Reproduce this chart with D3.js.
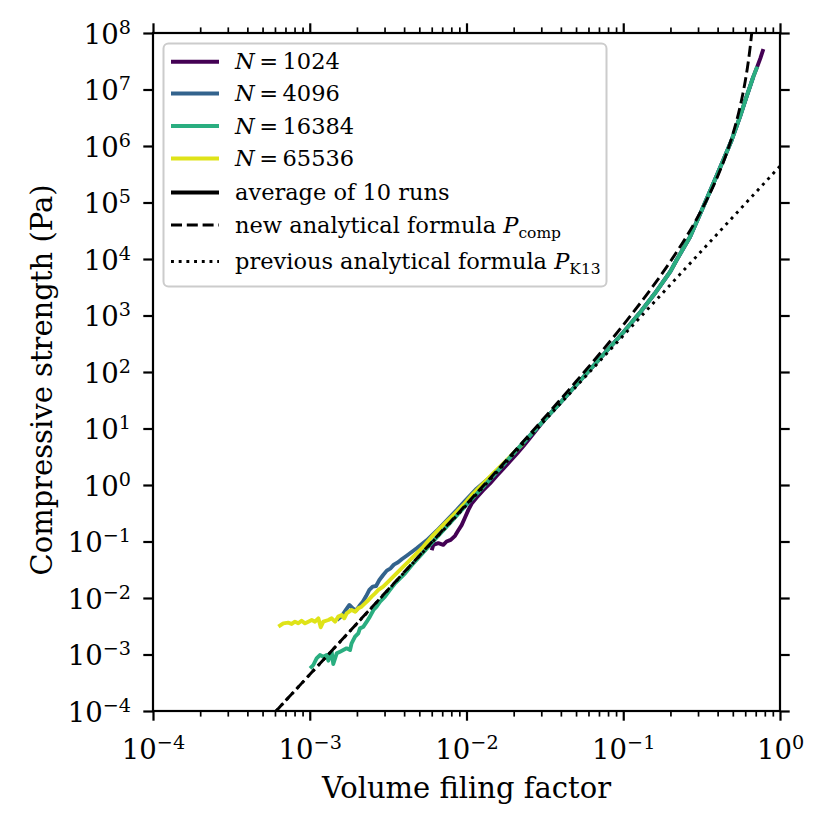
<!DOCTYPE html>
<html><head><meta charset="utf-8">
<script src="https://cdn.jsdelivr.net/npm/d3@7"></script>
<style>
body{margin:0;background:#fff}
svg{display:block}
text{font-family:"DejaVu Serif",serif;fill:#000}
</style>
</head><body>
<svg id="c" width="829" height="824"></svg>
<script>
// ---------- data ----------
const phi1024 = [6.00e-3,6.14e-3,6.61e-3,7.11e-3,7.46e-3,7.93e-3,8.45e-3,8.87e-3,9.31e-3,9.77e-3,1.028e-2,1.079e-2,1.161e-2,1.279e-2,1.413e-2,1.556e-2,1.718e-2,1.897e-2,2.09e-2,2.31e-2,2.54e-2,3.16e-2,3.98e-2,5.01e-2,6.31e-2,7.94e-2,0.1,0.126,0.158,0.2,0.219,0.267,0.324,0.376,0.435,0.492,0.556,0.612,0.676,0.716,0.75,0.783];
const p1024   = [7.00e-2,8.71e-2,9.33e-2,8.71e-2,0.100,0.107,0.126,0.158,0.195,0.263,0.363,0.468,0.603,0.813,1.07,1.45,1.95,2.63,3.55,4.90,6.76,14.5,28.8,58.9,120,245,501,1070,2400,6030,9590,2.48e4,8.43e4,2.18e5,5.65e5,1.28e6,3.30e6,7.46e6,1.69e7,2.54e7,3.6e7,5.2e7];

const phi4096 = [1.49e-3,1.60e-3,1.70e-3,1.79e-3,1.88e-3,1.97e-3,2.07e-3,2.18e-3,2.29e-3,2.40e-3,2.52e-3,2.65e-3,2.78e-3,2.94e-3,3.10e-3,3.28e-3,3.44e-3,3.66e-3,3.88e-3,4.15e-3,4.81e-3,5.57e-3,6.46e-3,7.46e-3,8.65e-3,1.0e-2,1.16e-2,1.585e-2,2.0e-2,2.51e-2,3.16e-2,3.98e-2,5.01e-2,6.31e-2,7.94e-2,0.1,0.126,0.158,0.2,0.219,0.267,0.324,0.376,0.435,0.492,0.556,0.612,0.676];
const p4096   = [4.07e-3,4.80e-3,6.14e-3,7.52e-3,6.56e-3,5.97e-3,7.21e-3,8.61e-3,1.08e-2,1.39e-2,1.59e-2,1.63e-2,2.08e-2,2.55e-2,3.05e-2,3.35e-2,3.9e-2,4.3e-2,4.9e-2,5.6e-2,7.6e-2,0.105,0.155,0.235,0.36,0.56,0.86,1.80,3.65,7.24,14.5,28.8,58.9,120,245,501,1070,2400,6030,9590,2.48e4,8.43e4,2.18e5,5.65e5,1.28e6,3.30e6,7.46e6,1.69e7];

const phi16384 = [1.005e-3,1.054e-3,1.106e-3,1.161e-3,1.222e-3,1.282e-3,1.315e-3,1.380e-3,1.413e-3,1.486e-3,1.560e-3,1.637e-3,1.718e-3,1.807e-3,1.849e-3,1.945e-3,2.04e-3,2.09e-3,2.20e-3,2.31e-3,2.42e-3,2.55e-3,2.67e-3,2.81e-3,3.02e-3,3.25e-3,3.50e-3,3.77e-3,4.06e-3,4.47e-3,5.01e-3,6.31e-3,7.94e-3,1.0e-2,1.26e-2,1.585e-2,2.0e-2,2.51e-2,3.16e-2,3.98e-2,5.01e-2,6.31e-2,7.94e-2,0.1,0.126,0.158,0.2,0.219,0.267,0.324,0.376,0.435,0.492,0.556,0.612,0.676,0.716];
const p16384   = [5.69e-4,6.52e-4,8.55e-4,9.79e-4,9.16e-4,9.79e-4,7.78e-4,1.122e-3,6.79e-4,1.05e-3,1.122e-3,1.20e-3,1.285e-3,1.20e-3,1.578e-3,2.07e-3,2.37e-3,2.90e-3,3.11e-3,3.81e-3,4.68e-3,6.14e-3,7.03e-3,8.61e-3,1.057e-2,1.39e-2,1.82e-2,2.23e-2,2.74e-2,3.8e-2,5.4e-2,0.110,0.219,0.447,0.89,1.78,3.63,7.24,14.5,28.8,58.9,120,245,501,1070,2400,6030,9590,2.48e4,8.43e4,2.18e5,5.65e5,1.28e6,3.30e6,7.46e6,1.69e7,2.54e7];

const phi65536 = [6.31e-4,6.78e-4,7.29e-4,7.67e-4,8.05e-4,8.45e-4,8.87e-4,9.33e-4,9.79e-4,1.03e-3,1.08e-3,1.135e-3,1.175e-3,1.22e-3,1.315e-3,1.38e-3,1.45e-3,1.52e-3,1.60e-3,1.66e-3,1.72e-3,1.85e-3,1.95e-3,2.04e-3,2.14e-3,2.25e-3,2.37e-3,2.48e-3,2.61e-3,2.74e-3,2.94e-3,3.17e-3,3.41e-3,3.67e-3,3.95e-3,4.26e-3,4.58e-3,5.31e-3,6.14e-3,7.11e-3,8.24e-3,9.55e-3,1.107e-2,1.28e-2,1.48e-2,1.72e-2,1.99e-2,2.31e-2];
const p65536   = [3.11e-3,3.56e-3,3.66e-3,3.47e-3,3.81e-3,3.56e-3,3.97e-3,3.56e-3,3.81e-3,4.08e-3,3.81e-3,4.37e-3,3.03e-3,3.81e-3,4.08e-3,4.37e-3,3.81e-3,4.68e-3,5.00e-3,4.37e-3,5.36e-3,6.14e-3,5.73e-3,6.56e-3,7.03e-3,8.05e-3,9.23e-3,1.057e-2,1.21e-2,1.39e-2,1.59e-2,1.95e-2,2.38e-2,2.92e-2,3.59e-2,4.40e-2,5.40e-2,8.11e-2,0.130,0.196,0.294,0.443,0.713,1.07,1.61,2.42,3.64,5.47];

// analytical curves, sampled values
const phiComp = [6.0e-4,1e-3,2e-3,5e-3,1e-2,2e-2,3e-2,5e-2,0.1,0.15,0.2,0.3,0.35,0.4,0.45,0.5,0.55,0.58,0.6,0.62,0.63,0.64,0.65,0.66];
const pComp   = [9.53e-5,4.42e-4,3.55e-3,5.61e-2,0.458,3.82,13.45,67.8,680,2929,9057,5.65e4,1.288e5,2.90e5,6.66e5,1.612e6,4.33e6,8.48e6,1.404e7,2.45e7,3.35e7,4.68e7,6.72e7,1.0e8];
const phiK13 = [6.1e-4,1e-3,1e-2,0.1,1];
const pK13   = [1.0e-4,4.4e-4,0.44,440,4.4e5];

const seriesNames  = ["N = 1024","N = 4096","N = 16384","N = 65536"];
const seriesColors = ["#440154","#33638d","#2aae80","#dfe318"];

const xTicks = [1e-4,1e-3,1e-2,1e-1,1];
const yTicks = [1e-4,1e-3,1e-2,1e-1,1,1e1,1e2,1e3,1e4,1e5,1e6,1e7,1e8];
const xLabel = "Volume filing factor";
const yLabel = "Compressive strength (Pa)";

// ---------- layout ----------
const M = {l:153, r:780, t:33, b:711};
const svg = d3.select("#c");
const x = d3.scaleLog().domain([1e-4,1]).range([M.l,M.r]);
const y = d3.scaleLog().domain([1e-4,1e8]).range([M.b,M.t]);

svg.append("defs").append("clipPath").attr("id","clip")
  .append("rect").attr("x",M.l).attr("y",M.t).attr("width",M.r-M.l).attr("height",M.b-M.t);

// ---------- lines ----------
const line = d3.line().x(d=>x(d[0])).y(d=>y(d[1]));
const smooth = d3.line().x(d=>x(d[0])).y(d=>y(d[1])).curve(d3.curveMonotoneX);
const plot = svg.append("g").attr("clip-path","url(#clip)");

const series = [
  {phi:phi1024, p:p1024, c:seriesColors[0]},
  {phi:phi4096, p:p4096, c:seriesColors[1]},
  {phi:phi65536, p:p65536, c:seriesColors[3]},
  {phi:phi16384, p:p16384, c:seriesColors[2]}
];
series.forEach(s=>{
  plot.append("path").datum(d3.zip(s.phi,s.p))
    .attr("d",line).attr("fill","none").attr("stroke",s.c)
    .attr("stroke-width",3.9).attr("stroke-linejoin","round").attr("stroke-linecap","butt");
});
plot.append("path").datum(d3.zip(phiComp,pComp)).attr("d",smooth)
  .attr("fill","none").attr("stroke","#000").attr("stroke-width",2.9)
  .attr("stroke-dasharray","11,4.8");
plot.append("path").datum(d3.zip(phiK13,pK13)).attr("d",line)
  .attr("fill","none").attr("stroke","#000").attr("stroke-width",2.9)
  .attr("stroke-dasharray","2.9,4.8");

// ---------- axes ----------
const xMinor = [];
for (let e=-4;e<0;e++) for (let k=2;k<=9;k++) xMinor.push(k*Math.pow(10,e));

function styleAxis(g, w){
  g.select(".domain").remove();
  g.selectAll(".tick line").attr("stroke","#000").attr("stroke-width",w);
}
const fmtNone = ()=>"";
styleAxis(svg.append("g").attr("transform",`translate(0,${M.b})`)
  .call(d3.axisBottom(x).tickValues(xMinor).tickSize(5.6).tickFormat(fmtNone)),1.7);
styleAxis(svg.append("g").attr("transform",`translate(0,${M.t})`)
  .call(d3.axisTop(x).tickValues(xMinor).tickSize(5.6).tickFormat(fmtNone)),1.7);
styleAxis(svg.append("g").attr("transform",`translate(0,${M.t})`)
  .call(d3.axisTop(x).tickValues(xTicks).tickSize(9.7).tickFormat(fmtNone)),2.2);
styleAxis(svg.append("g").attr("transform",`translate(${M.r},0)`)
  .call(d3.axisRight(y).tickValues(yTicks).tickSize(9.7).tickFormat(fmtNone)),2.2);

const gx = svg.append("g").attr("transform",`translate(0,${M.b})`)
  .call(d3.axisBottom(x).tickValues(xTicks).tickSize(9.7).tickFormat(fmtNone));
styleAxis(gx,2.2);
const gy = svg.append("g").attr("transform",`translate(${M.l},0)`)
  .call(d3.axisLeft(y).tickValues(yTicks).tickSize(9.7).tickFormat(fmtNone));
styleAxis(gy,2.2);

function expLabel(t, d){
  const e = Math.round(Math.log10(d));
  t.text(null).attr("dy",null).attr("fill","#000").style("font-family",'"DejaVu Serif",serif');
  t.append("tspan").attr("font-size",27.5).text("10");
  t.append("tspan").attr("font-size",19.2).attr("dy",-10).text(e<0 ? "\u2212"+(-e) : String(e));
}
gx.selectAll(".tick text").each(function(d){
  const t=d3.select(this);
  t.attr("y",48).attr("text-anchor","middle");
  expLabel(t,d);
});
gy.selectAll(".tick text").each(function(d){
  const t=d3.select(this);
  t.attr("x",-22).attr("y",10).attr("text-anchor","end");
  expLabel(t,d);
});

// spines
svg.append("rect").attr("x",M.l).attr("y",M.t).attr("width",M.r-M.l).attr("height",M.b-M.t)
  .attr("fill","none").attr("stroke","#000").attr("stroke-width",2.2);

// axis labels
svg.append("text").attr("x",(M.l+M.r)/2).attr("y",798).attr("text-anchor","middle")
  .attr("font-size",29).text(xLabel);
svg.append("text").attr("transform",`translate(52,${(M.t+M.b)/2 + 8}) rotate(-90)`)
  .attr("text-anchor","middle").attr("font-size",29).text(yLabel);

// ---------- legend ----------
const lg = svg.append("g");
lg.append("rect").attr("x",163.5).attr("y",43.5).attr("width",443).attr("height",243)
  .attr("rx",5).attr("fill","#fff").attr("fill-opacity",0.8)
  .attr("stroke","#cccccc").attr("stroke-width",2);
const rowY = [61.7,93.5,126,158.5,192.5,225,261.5];
const legendItems = [
  {kind:"N", label:seriesNames[0], c:seriesColors[0]},
  {kind:"N", label:seriesNames[1], c:seriesColors[1]},
  {kind:"N", label:seriesNames[2], c:seriesColors[2]},
  {kind:"N", label:seriesNames[3], c:seriesColors[3]},
  {kind:"solid", label:"average of 10 runs", c:"#000"},
  {kind:"dash", label:"new analytical formula ", sub:"comp", c:"#000"},
  {kind:"dot", label:"previous analytical formula ", sub:"K13", c:"#000"}
];
legendItems.forEach((it,i)=>{
  const yy=rowY[i];
  const ln = lg.append("line").attr("x1",171).attr("x2",219).attr("y1",yy).attr("y2",yy)
    .attr("stroke",it.c);
  if (it.kind==="dash") ln.attr("stroke-width",2.9).attr("stroke-dasharray","11,4.8");
  else if (it.kind==="dot") ln.attr("stroke-width",2.9).attr("stroke-dasharray","2.9,4.8");
  else ln.attr("stroke-width",4);
  const t = lg.append("text").attr("x",235).attr("y",yy+7.6).attr("font-size",22.5);
  if (it.kind==="N"){
    const parts = it.label.split(" = ");
    t.append("tspan").attr("font-style","italic").text("N");
    t.append("tspan").text("\u2009=\u2009"+parts[1]);
  } else if (it.sub){
    t.append("tspan").text(it.label);
    t.append("tspan").attr("font-style","italic").text("P");
    t.append("tspan").attr("font-size",15.5).attr("dy",5).text(it.sub);
  } else {
    t.text(it.label);
  }
});
</script>
</body></html>
